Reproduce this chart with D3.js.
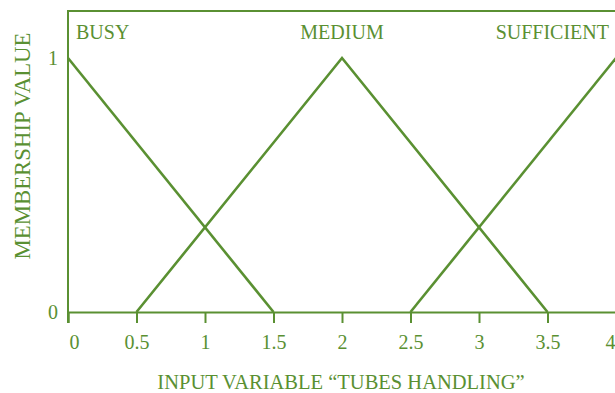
<!DOCTYPE html>
<html>
<head>
<meta charset="utf-8">
<script src="https://cdn.jsdelivr.net/npm/d3@7"></script>
<style>
  body { margin: 0; background: #fff; }
  svg text { font-family: "Liberation Serif", "Times New Roman", serif; fill: #5a9032; }
</style>
</head>
<body>
<div id="chart"></div>
<script>
// Membership functions (x, membership)
const busy = [[0, 1], [1.5, 0]];
const medium = [[0.5, 0], [2, 1], [3.5, 0]];
const sufficient = [[2.5, 0], [4, 1]];
const setNames = ["BUSY", "MEDIUM", "SUFFICIENT"];
const xTicks = [0, 0.5, 1, 1.5, 2, 2.5, 3, 3.5, 4];
const yTicks = [0, 1];

const green = "#5a9032";
const width = 615, height = 393;

const svg = d3.select("#chart")
    .append("svg")
    .attr("width", width)
    .attr("height", height);

const x = d3.scaleLinear().domain([0, 4]).range([68, 616]);
const y = d3.scaleLinear().domain([0, 1]).range([312, 58]);

//Frame: top line and left axis
svg.append("line")
    .attr("x1", 68).attr("x2", width)
    .attr("y1", 11).attr("y2", 11)
    .attr("stroke", green).attr("stroke-width", 2);
svg.append("line")
    .attr("x1", 68).attr("x2", 68)
    .attr("y1", 10).attr("y2", 323)
    .attr("stroke", green).attr("stroke-width", 2);

//X axis
const xAxis = svg.append("g")
    .attr("transform", `translate(0, ${y(0)})`)
    .call(d3.axisBottom(x).tickValues(xTicks).tickSize(11).tickPadding(0)
        .tickFormat(d3.format("")));
xAxis.select(".domain").attr("stroke", green).attr("stroke-width", 2);
xAxis.selectAll(".tick line").attr("stroke", green).attr("stroke-width", 2);
xAxis.selectAll(".tick text")
    .attr("y", 37)
    .attr("dy", null)
    .attr("font-size", 20)
    .attr("font-family", "Liberation Serif, serif")
    .attr("fill", green);
xAxis.selectAll(".tick").filter(d => d === 0).select("text").attr("dx", 6);
xAxis.selectAll(".tick").filter(d => d === 4).select("text").attr("text-anchor", "end").attr("dx", -1);

//Y tick labels (no tick marks)
svg.selectAll(".ylab")
    .data(yTicks)
    .join("text")
    .attr("class", "ylab")
    .attr("x", 58)
    .attr("y", d => y(d) + 7)
    .attr("text-anchor", "end")
    .attr("font-size", 20)
    .text(d => d);

//Membership lines
const line = d3.line().x(d => x(d[0])).y(d => y(d[1]));
[busy, medium, sufficient].forEach(s => {
    svg.append("path")
        .attr("d", line(s))
        .attr("fill", "none")
        .attr("stroke", green)
        .attr("stroke-width", 2.6);
});

//Set labels
svg.append("text").attr("x", 76).attr("y", 39).attr("font-size", 20).text(setNames[0]);
svg.append("text").attr("x", x(2)).attr("y", 39).attr("font-size", 20)
    .attr("text-anchor", "middle").text(setNames[1]);
svg.append("text").attr("x", 609).attr("y", 39).attr("font-size", 20)
    .attr("text-anchor", "end").text(setNames[2]);

//Axis titles
svg.append("text")
    .attr("x", 341).attr("y", 389)
    .attr("text-anchor", "middle")
    .attr("font-size", 20.5)
    .text("INPUT VARIABLE \u201CTUBES HANDLING\u201D");
svg.append("text")
    .attr("transform", "translate(30, 146) rotate(-90)")
    .attr("text-anchor", "middle")
    .attr("font-size", 22.8)
    .text("MEMBERSHIP VALUE");
</script>
</body>
</html>
